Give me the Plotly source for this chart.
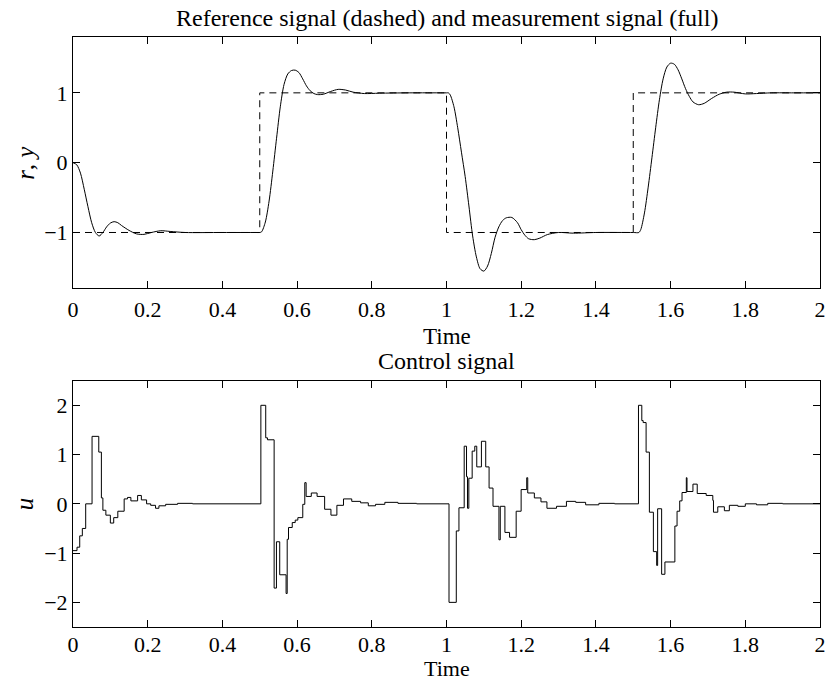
import plotly.graph_objects as go

# ---------------- data ----------------
# measurement signal y(t)
t_meas = [0.0, 0.01, 0.02, 0.03, 0.04, 0.05, 0.06, 0.07, 0.08, 0.09, 0.10, 0.11, 0.12, 0.13,
          0.15, 0.17, 0.19, 0.21, 0.235, 0.26, 0.30, 0.40, 0.49,
          0.50, 0.505, 0.515, 0.525, 0.535, 0.545, 0.555, 0.565, 0.575, 0.585, 0.595, 0.605,
          0.615, 0.625, 0.635, 0.645, 0.655, 0.67, 0.69, 0.71, 0.73, 0.75, 0.78, 0.82, 0.90, 0.99,
          1.0, 1.005, 1.01, 1.02, 1.03, 1.04, 1.05, 1.06, 1.07, 1.08, 1.09, 1.10, 1.11, 1.12,
          1.13, 1.14, 1.15, 1.16, 1.175, 1.19, 1.20, 1.21, 1.22, 1.235, 1.25, 1.27, 1.30, 1.34,
          1.40, 1.50,
          1.515, 1.52, 1.53, 1.54, 1.55, 1.56, 1.57, 1.58, 1.59, 1.60, 1.61, 1.62, 1.63, 1.64,
          1.65, 1.66, 1.675, 1.69, 1.71, 1.73, 1.75, 1.77, 1.80, 1.83, 1.87, 1.93, 2.0]
y_meas = [0.0, -0.03, -0.15, -0.38, -0.63, -0.86, -1.0, -1.05, -1.0, -0.92, -0.865, -0.845, -0.86, -0.9,
          -0.97, -1.02, -1.027, -1.0, -0.975, -0.985, -1.0, -1.0, -1.0,
          -1.0, -0.99, -0.85, -0.55, -0.12, 0.35, 0.8, 1.12, 1.27, 1.32, 1.325, 1.29,
          1.2, 1.1, 1.03, 0.99, 0.975, 0.98, 1.02, 1.05, 1.04, 1.01, 0.99, 0.995, 1.0, 1.0,
          1.0, 1.0, 0.97, 0.8, 0.5, 0.15, -0.2, -0.62, -1.05, -1.35, -1.52, -1.553, -1.48, -1.3,
          -1.07, -0.92, -0.83, -0.79, -0.785, -0.86, -0.96, -1.04, -1.09, -1.103, -1.08, -1.03, -1.0, -1.01,
          -1.0, -1.0,
          -1.0, -0.96, -0.72, -0.35, 0.07, 0.5, 0.9, 1.2, 1.37, 1.425, 1.41, 1.33, 1.2, 1.06,
          0.95, 0.87, 0.83, 0.85, 0.92, 0.98, 1.01, 1.01, 0.985, 0.99, 1.0, 1.0, 1.0]

# reference signal r(t) (piecewise constant)
t_ref = [0.0, 0.5, 1.0, 1.5, 2.0]
r_ref = [-1, 1, -1, 1, 1]

# control signal u(t) (zero-order hold: value from each time onward)
t_ctrl = [0.0, 0.0107, 0.018, 0.025, 0.034, 0.051, 0.069, 0.076, 0.080, 0.088, 0.100, 0.109,
          0.120, 0.137, 0.146, 0.155, 0.173, 0.183, 0.197, 0.208, 0.221, 0.230, 0.248, 0.28, 0.32,
          0.503, 0.516, 0.5207, 0.5385, 0.5447, 0.5535, 0.5705, 0.5735, 0.577, 0.587, 0.595,
          0.602, 0.6152, 0.6206, 0.6242, 0.638, 0.6535, 0.6737, 0.6906, 0.7065, 0.7242, 0.7463,
          0.77, 0.7906, 0.81, 0.8349, 0.87, 0.92,
          1.0067, 1.0262, 1.0333, 1.0474, 1.0536, 1.0563, 1.0598, 1.0687, 1.0757, 1.081, 1.0935,
          1.105, 1.114, 1.1245, 1.1404, 1.144, 1.1564, 1.1688, 1.1865, 1.1998, 1.2148, 1.2175,
          1.2352, 1.2529, 1.2689, 1.2946, 1.3211, 1.346, 1.3725, 1.408, 1.45,
          1.514, 1.5229, 1.5265, 1.5344, 1.5432, 1.5539, 1.5627, 1.5653, 1.576, 1.5848, 1.6114,
          1.6173, 1.6244, 1.6306, 1.6421, 1.6439, 1.6598, 1.6713, 1.6953, 1.713, 1.7148, 1.7263,
          1.744, 1.7573, 1.78, 1.80, 1.83, 1.86, 1.90, 2.0]
u_ctrl = [-0.95, -0.88, -0.65, -0.5, 0.0, 1.37, 1.05, 0.12, -0.13, -0.23, -0.39, -0.28,
          -0.15, 0.1, 0.13, 0.06, 0.17, 0.08, 0.0, -0.03, -0.09, -0.04, -0.01, 0.01, 0.0,
          2.0, 1.34, 1.3, -1.71, -0.77, -1.44, -1.82, -0.72, -0.48, -0.38, -0.33,
          -0.28, -0.01, 0.43, 0.15, 0.22, 0.15, -0.11, -0.23, -0.03, 0.1, 0.05,
          0.02, -0.04, -0.01, 0.03, 0.01, 0.0,
          -2.0, -0.55, -0.08, 1.17, 0.55, -0.09, 0.52, 1.07, 1.17, 0.75, 1.27,
          0.75, 0.32, -0.05, -0.73, -0.05, -0.58, -0.68, -0.15, 0.29, 0.53, 0.22,
          0.12, 0.04, -0.09, -0.05, 0.05, 0.03, -0.02, 0.01, 0.0,
          2.0, 1.69, 1.65, 1.05, -0.17, -0.97, -1.25, -0.10, -1.43, -1.18, -0.45,
          -0.15, 0.06, 0.23, 0.53, 0.25, 0.40, 0.21, 0.17, 0.07, -0.17, -0.06,
          -0.14, -0.03, -0.05, 0.0, -0.02, 0.01, 0.0, 0.0]

x_ticks = [0, 0.2, 0.4, 0.6, 0.8, 1, 1.2, 1.4, 1.6, 1.8, 2]
x_ticklabels = ["0", "0.2", "0.4", "0.6", "0.8", "1", "1.2", "1.4", "1.6", "1.8", "2"]
y1_ticks = [-1, 0, 1]
y1_ticklabels = ["\u22121", "0", "1"]
y2_ticks = [-2, -1, 0, 1, 2]
y2_ticklabels = ["\u22122", "\u22121", "0", "1", "2"]

# ---------------- figure ----------------
FONT = "Liberation Serif, Times New Roman, serif"
FS_TICK = 22
FS_TEXT = 24

fig = go.Figure()
fig.add_trace(go.Scatter(x=t_ref, y=r_ref, mode="lines", line_shape="hv",
                         line=dict(color="black", width=1, dash="7px,5px"),
                         xaxis="x", yaxis="y", showlegend=False, hoverinfo="skip"))
fig.add_trace(go.Scatter(x=t_meas, y=y_meas, mode="lines", line_shape="spline",
                         line=dict(color="black", width=1, smoothing=0.8),
                         xaxis="x", yaxis="y", showlegend=False, hoverinfo="skip"))
fig.add_trace(go.Scatter(x=t_ctrl, y=u_ctrl, mode="lines", line_shape="hv",
                         line=dict(color="black", width=1),
                         xaxis="x2", yaxis="y2", showlegend=False, hoverinfo="skip"))

axis_common = dict(showline=True, linecolor="black", linewidth=1, mirror="ticks",
                   ticks="inside", ticklen=7, tickcolor="black", tickwidth=1,
                   showgrid=False, zeroline=False,
                   tickfont=dict(family=FONT, size=FS_TICK, color="black"))

fig.update_layout(
    width=833, height=684,
    margin=dict(l=73, r=7, t=37, b=57),
    paper_bgcolor="white", plot_bgcolor="white",
    font=dict(family=FONT, size=FS_TEXT, color="black"),
    xaxis=dict(domain=[0, 1], range=[0, 2], tickvals=x_ticks, ticktext=x_ticklabels,
               anchor="y", ticklabelstandoff=1, **axis_common),
    yaxis=dict(domain=[0.574, 1], range=[-1.8, 1.8], tickvals=y1_ticks,
               ticktext=y1_ticklabels, anchor="x", **axis_common),
    xaxis2=dict(domain=[0, 1], range=[0, 2], tickvals=x_ticks, ticktext=x_ticklabels,
                anchor="y2", ticklabelstandoff=-2, **axis_common),
    yaxis2=dict(domain=[0, 0.4175], range=[-2.5, 2.5], tickvals=y2_ticks,
                ticktext=y2_ticklabels, anchor="x2", **axis_common),
    annotations=[
        dict(text="Reference signal (dashed) and measurement signal (full)",
             xref="paper", yref="paper", x=0.5, y=1.032, xanchor="center", yanchor="middle",
             showarrow=False, font=dict(family=FONT, size=FS_TEXT)),
        dict(text="Time", xref="paper", yref="paper", x=0.5, y=0.493,
             xanchor="center", yanchor="middle", showarrow=False, font=dict(family=FONT, size=FS_TEXT - 1)),
        dict(text="Control signal", xref="paper", yref="paper", x=0.5, y=0.451,
             xanchor="center", yanchor="middle", showarrow=False, font=dict(family=FONT, size=FS_TEXT)),
        dict(text="Time", xref="paper", yref="paper", x=0.5, y=-0.0695,
             xanchor="center", yanchor="middle", showarrow=False, font=dict(family=FONT, size=FS_TEXT - 2)),
        dict(text="<i>r</i>, <i>y</i>", xref="paper", yref="paper", x=-0.064, y=0.787,
             xanchor="center", yanchor="middle", textangle=-90, showarrow=False,
             font=dict(family=FONT, size=FS_TEXT + 1)),
        dict(text="<i>u</i>", xref="paper", yref="paper", x=-0.064, y=0.2085,
             xanchor="center", yanchor="middle", textangle=-90, showarrow=False,
             font=dict(family=FONT, size=FS_TEXT + 1)),
    ],
)

fig.write_html("out.html", config={"displayModeBar": False},
               post_script="document.body.style.margin='0px';document.body.style.overflow='hidden';")
